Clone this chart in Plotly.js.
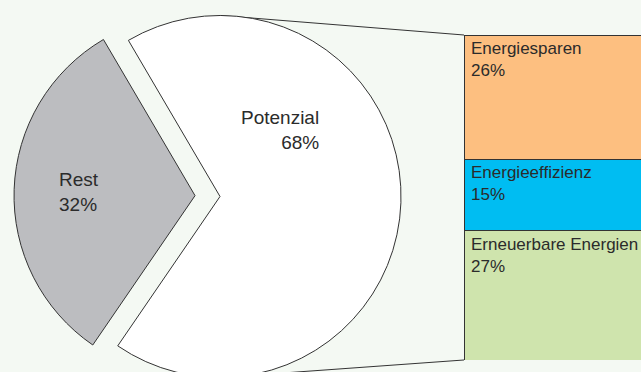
<!DOCTYPE html>
<html>
<head>
<meta charset="utf-8">
<script src="https://cdn.plot.ly/plotly-3.0.1.min.js"></script>
<style>
  html, body { margin: 0; padding: 0; background: #f4f9f3; overflow: hidden; }
  #wrap { width: 641px; height: 372px; overflow: hidden; position: relative; }
  #chart { position: absolute; left: 0; top: -12px; width: 641px; height: 420px; }
</style>
</head>
<body>
<div id="wrap"><div id="chart"></div></div>
<script>
// ---- data ----
var pieLabels = ['Rest', 'Potenzial'];
var pieValues = [32, 68];
var pieText = ['Rest<br>32%', 'Potenzial<br>68%'];

var barLabels = ['Erneuerbare Energien', 'Energieeffizienz', 'Energiesparen']; // bottom to top
var barValues = [27, 15, 26];
var barText = ['Erneuerbare Energien<br>27%', 'Energieeffizienz<br>15%', 'Energiesparen<br>26%'];

// ---- styles / layout ----
var W = 641, H = 420;
var FONT = 'Liberation Sans, Arial, sans-serif';
var TXT = '#2b2b2b';
var LINE = '#333333';
var pieColors = ['#bcbdc0', '#ffffff'];
var barColors = ['#cfe4ad', '#00bdf2', '#fdbf80'];
var pull = 0.138;
var restCenterAngle = 272; // degrees clockwise from 12 o'clock
var pieDomX = [0.02184, 0.6646];
var pieDomY = [0.013095, 0.99405];
var barDomX = [464 / W, 1];
var barDomY = [0.114286, 0.888095];

var total = barValues.reduce(function (a, b) { return a + b; }, 0);

var traces = [{
  type: 'pie',
  labels: pieLabels,
  values: pieValues,
  sort: false,
  direction: 'clockwise',
  rotation: restCenterAngle - (pieValues[0] / (pieValues[0] + pieValues[1])) * 180,
  pull: [pull, 0],
  marker: { colors: pieColors, line: { color: LINE, width: 1 } },
  textinfo: 'none',
  hoverinfo: 'skip',
  domain: { x: pieDomX, y: pieDomY },
  showlegend: false
}];

for (var i = 0; i < barValues.length; i++) {
  traces.push({
    type: 'bar',
    x: [0.6],
    y: [barValues[i]],
    width: [1.2],
    name: barLabels[i],
    marker: { color: barColors[i], line: { color: LINE, width: 1 } },
    hoverinfo: 'skip',
    showlegend: false,
    xaxis: 'x', yaxis: 'y'
  });
}

// annotations
var annotations = [];
var cum = 0;
for (var j = 0; j < barValues.length; j++) {
  cum += barValues[j];
  annotations.push({
    xref: 'x', yref: 'y', x: 0, y: cum,
    xanchor: 'left', yanchor: 'top', align: 'left',
    xshift: 5, yshift: -2,
    text: barText[j], showarrow: false,
    font: { family: FONT, size: 17, color: TXT }
  });
}
annotations.push({
  xref: 'paper', yref: 'paper', x: 57 / W, y: 1 - 179 / H,
  xanchor: 'left', yanchor: 'top', align: 'left',
  text: pieText[0], showarrow: false,
  font: { family: FONT, size: 19, color: TXT }
});
annotations.push({
  xref: 'paper', yref: 'paper', x: 321 / W, y: 1 - 117 / H,
  xanchor: 'right', yanchor: 'top', align: 'right',
  text: pieText[1], showarrow: false,
  font: { family: FONT, size: 19, color: TXT }
});

// connector lines from the pie's top/bottom to the bar's corners
var boxW = W * (pieDomX[1] - pieDomX[0]);
var boxH = H * (pieDomY[1] - pieDomY[0]);
var r = Math.min(boxW, boxH) / 2 / (1 + pull);
var cxP = (pieDomX[0] + pieDomX[1]) / 2;
var cyPx = H * (1 - pieDomY[0]) - boxH / 2;
var topP = 1 - (cyPx - r) / H;
var botP = 1 - (cyPx + r) / H;
var shapes = [
  { type: 'line', xref: 'paper', yref: 'paper', x0: cxP, y0: topP, x1: barDomX[0], y1: barDomY[1],
    line: { color: LINE, width: 1 }, layer: 'below' },
  { type: 'line', xref: 'paper', yref: 'paper', x0: cxP, y0: botP, x1: barDomX[0], y1: barDomY[0],
    line: { color: LINE, width: 1 }, layer: 'below' }
];

var layout = {
  width: W, height: H,
  margin: { l: 0, r: 0, t: 0, b: 0, pad: 0 },
  paper_bgcolor: '#f4f9f3',
  plot_bgcolor: 'rgba(0,0,0,0)',
  barmode: 'stack',
  showlegend: false,
  xaxis: { domain: barDomX, range: [0, 1], visible: false, fixedrange: true },
  yaxis: { domain: barDomY, range: [0, total], visible: false, fixedrange: true },
  annotations: annotations,
  shapes: shapes,
  font: { family: FONT, color: TXT }
};

Plotly.newPlot('chart', traces, layout, { staticPlot: true, displayModeBar: false });
</script>
</body>
</html>
